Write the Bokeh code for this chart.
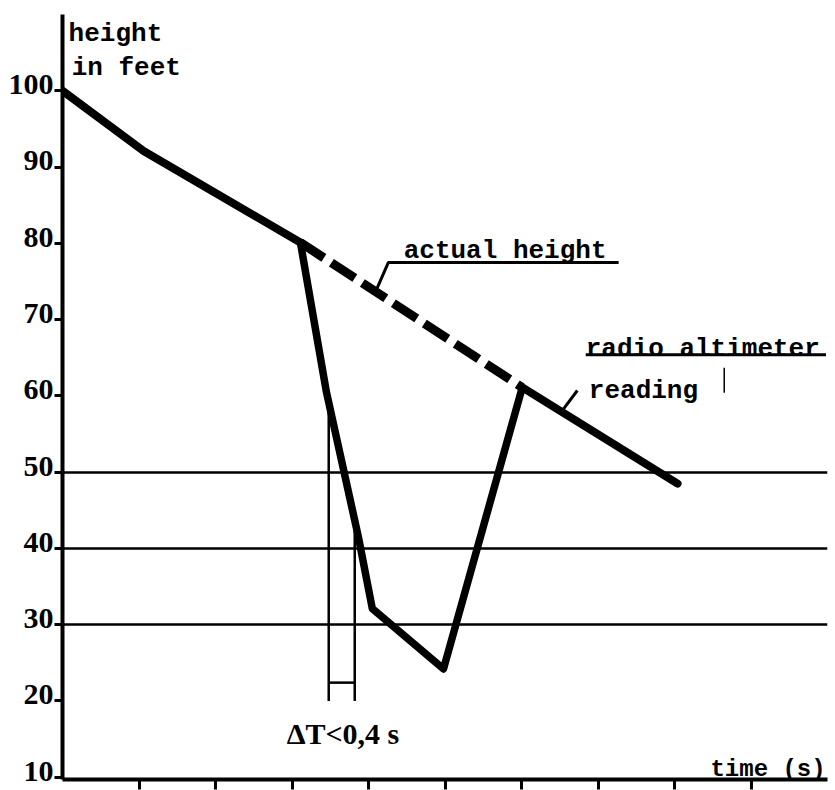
from bokeh.plotting import figure
from bokeh.models import Range1d, LinearAxis, FixedTicker, Grid
from bokeh.core.properties import value
from bokeh.embed import file_html
from bokeh.resources import INLINE

# ---- data (time in s, height in feet) ----
actual_t = [0.0, 1.06, 3.11, 6.01, 8.04]
actual_h = [100.0, 92.1, 80.1, 61.1, 48.5]

radio_t = [3.11, 3.45, 3.87, 4.05, 4.98, 6.01]
radio_h = [80.1, 60.5, 41.4, 32.1, 24.2, 61.1]

dt_t = [3.48, 3.82]          # delta T markers
dt_top = [60.0, 44.0]
dt_bottom = 20.0
dt_bar = 22.4

y_ticks = [10, 20, 30, 40, 50, 60, 70, 80, 90, 100]
x_ticks = [1, 2, 3, 4, 5, 6, 7, 8, 9]
grid_levels = [30, 40, 50]

# annotation leaders
act_lead_t = [4.09, 4.26, 7.27]
act_lead_h = [73.6, 77.5, 77.5]
rad_under_t = [6.84, 9.98]
rad_under_h = [65.4, 65.4]
rad_lead_t = [6.55, 6.73]
rad_lead_h = [58.3, 60.7]
mark_t = [8.65, 8.65]
mark_h = [63.7, 60.4]

mono_texts = ["height", "in feet", "actual height", "radio altimeter", "reading"]
mono_t = [0.08, 0.12, 4.46, 6.84, 6.88]
mono_h = [107.5, 103.0, 79.0, 66.2, 60.7]

time_text = ["time (s)"]
time_t = [8.47]
time_h = [11.0]

dt_text = ["\u0394T<0,4 s"]
dt_text_t = [2.93]
dt_text_h = [15.7]

Y0, Y1 = 9.7, 110.0

p = figure(width=835, height=790, x_range=Range1d(0, 10), y_range=Range1d(Y0, Y1),
           output_backend="svg", toolbar_location=None,
           x_axis_type=None, y_axis_type=None,
           min_border_left=62, min_border_right=8, min_border_top=14, min_border_bottom=11)
p.outline_line_color = None
p.background_fill_color = "white"
p.border_fill_color = "white"
p.extra_y_ranges = {"labels": Range1d(Y0 - 0.8, Y1 - 0.8)}

# axes
xa = LinearAxis(ticker=FixedTicker(ticks=x_ticks),
                major_label_overrides={t: "" for t in x_ticks},
                major_label_text_font_size="1px",
                major_label_standoff=0, major_tick_out=10, major_tick_in=0,
                minor_tick_out=0, minor_tick_in=0, axis_line_width=4,
                major_tick_line_width=3, axis_line_color="black", major_tick_line_color="black")
p.add_layout(xa, "below")

ya = LinearAxis(ticker=FixedTicker(ticks=y_ticks),
                major_label_overrides={t: "" for t in y_ticks},
                major_label_text_font_size="1px",
                major_label_standoff=0, major_tick_out=8, major_tick_in=0,
                minor_tick_out=0, minor_tick_in=0, axis_line_width=4,
                major_tick_line_width=3, axis_line_color="black", major_tick_line_color="black")
p.add_layout(ya, "left")

yl = LinearAxis(y_range_name="labels", ticker=FixedTicker(ticks=y_ticks),
                axis_line_color=None, major_tick_line_color=None, minor_tick_line_color=None,
                major_tick_out=0, minor_tick_out=0, major_tick_in=0, minor_tick_in=0,
                major_label_text_font="Liberation Serif", major_label_text_font_style="bold",
                major_label_text_font_size="30px", major_label_text_color="black",
                major_label_standoff=1)
p.add_layout(yl, "left")

grid = Grid(dimension=1, ticker=FixedTicker(ticks=grid_levels),
            grid_line_color="black", grid_line_width=2.5)
p.add_layout(grid)

# delta T markers
for t, top in zip(dt_t, dt_top):
    p.line([t, t], [top, dt_bottom], line_color="black", line_width=2.5)
p.line(dt_t, [dt_bar, dt_bar], line_color="black", line_width=2.5)

# actual height
p.line(actual_t[:3], actual_h[:3], line_color="black", line_width=8,
       line_join="round", line_cap="round")
p.line(actual_t[2:4], actual_h[2:4], line_color="black", line_width=9,
       line_dash="28 9", line_cap="butt")
p.line(actual_t[3:], actual_h[3:], line_color="black", line_width=8,
       line_join="round", line_cap="round")

# radio altimeter reading
p.line(radio_t, radio_h, line_color="black", line_width=7.5,
       line_join="round", line_cap="round")

# leaders
p.line(act_lead_t, act_lead_h, line_color="black", line_width=3)
p.line(rad_under_t, rad_under_h, line_color="black", line_width=3)
p.line(rad_lead_t, rad_lead_h, line_color="black", line_width=3)
p.line(mark_t, mark_h, line_color="black", line_width=1.5)

# texts
p.text(x=mono_t, y=mono_h, text=mono_texts, text_font=value("Liberation Mono"),
       text_font_style="bold", text_font_size="26px", text_baseline="alphabetic",
       text_align="left", text_color="black")
p.text(x=time_t, y=time_h, text=time_text, text_font=value("Liberation Mono"),
       text_font_style="bold", text_font_size="24px", text_baseline="alphabetic",
       text_align="left", text_color="black")
p.text(x=dt_text_t, y=dt_text_h, text=dt_text, text_font=value("Liberation Serif"),
       text_font_style="bold", text_font_size="30px", text_baseline="alphabetic",
       text_align="left", text_color="black")

open("out.html", "w").write(file_html(p, INLINE))
